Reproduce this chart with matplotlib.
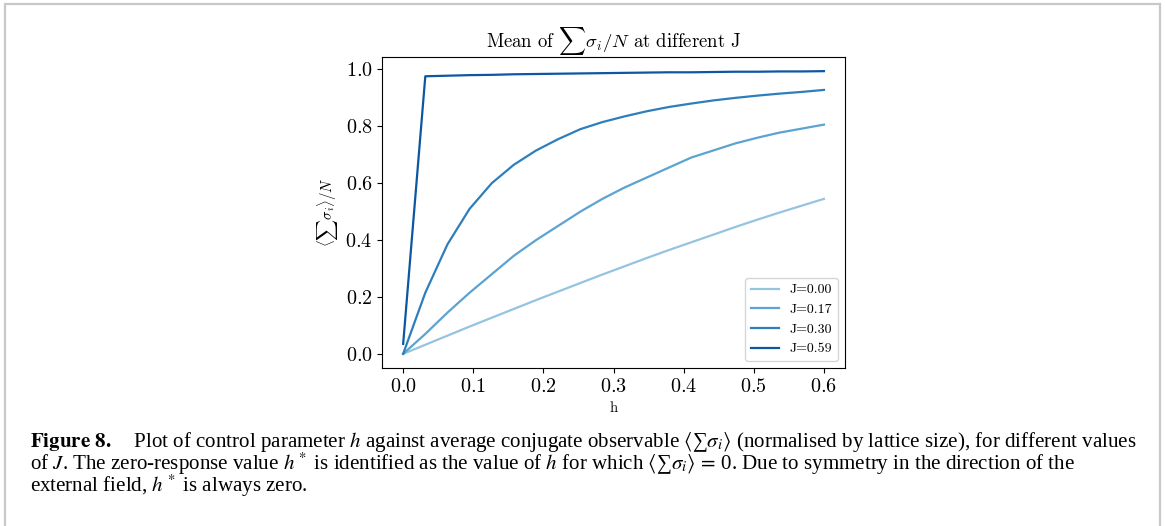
import numpy as np
import matplotlib
matplotlib.use("Agg")
import matplotlib.pyplot as plt
from matplotlib.patches import Rectangle

plt.rcParams['font.family'] = 'cmr10'
plt.rcParams['mathtext.fontset'] = 'cm'
plt.rcParams['axes.formatter.use_mathtext'] = True

# control parameter h (20 samples from 0 to 0.6)
h = np.linspace(0, 0.6, 20)

J_labels = ['J=0.00', 'J=0.17', 'J=0.30', 'J=0.59']

m_J000 = [0.0, 0.032, 0.064, 0.096, 0.127, 0.158, 0.189, 0.219, 0.249, 0.279,
          0.308, 0.337, 0.365, 0.392, 0.419, 0.446, 0.472, 0.497, 0.521, 0.545]
m_J017 = [0.0, 0.07, 0.145, 0.215, 0.28, 0.345, 0.40, 0.45, 0.50, 0.545,
          0.585, 0.62, 0.655, 0.69, 0.715, 0.74, 0.76, 0.778, 0.792, 0.806]
m_J030 = [0.0, 0.215, 0.385, 0.51, 0.60, 0.665, 0.715, 0.755, 0.79, 0.815,
          0.835, 0.853, 0.868, 0.88, 0.891, 0.90, 0.908, 0.915, 0.921, 0.928]
m_J059 = [0.035, 0.976, 0.978, 0.980, 0.981, 0.983, 0.984, 0.985, 0.986, 0.987,
          0.988, 0.989, 0.990, 0.990, 0.991, 0.992, 0.992, 0.993, 0.993, 0.994]

series = [m_J000, m_J017, m_J030, m_J059]
colors = [plt.cm.Blues(v) for v in (0.4, 0.55, 0.7, 0.85)]

fig = plt.figure(figsize=(11.65, 5.26), dpi=100)

# page border
fig.patches.append(Rectangle((5 / 1165, -0.05), 1155 / 1165, 1.05 - 4 / 526,
                             transform=fig.transFigure, fill=False,
                             edgecolor='#c8c8c8', linewidth=1.6))

ax = fig.add_axes([0.328, 0.3004, 0.3973, 0.5912])
for y, c, lab in zip(series, colors, J_labels):
    ax.plot(h, y, color=c, label=lab, linewidth=1.6)

ax.set_title(r'Mean of $\sum\sigma_i/N$ at different J', fontsize=13.5)
ax.set_xlabel('h', fontsize=10.5)
ax.set_ylabel(r'$\langle\sum\sigma_i\rangle/N$', fontsize=10.5)
ax.set_xticks(np.arange(0, 0.61, 0.1))
ax.set_yticks(np.arange(0, 1.01, 0.2))
ax.tick_params(labelsize=14.5)
ax.legend(loc='lower right', fontsize=10)

# caption, one text block so the lines share one layout
avg = r'$\langle$' + '\u2211' + r'$\sigma_i\rangle$'
caption = (r'$\mathbf{Figure\ 8.}\quad$ Plot of control parameter $h$ against average '
           r'conjugate observable ' + avg
           + ' (normalised by lattice size), for different values\n'
           r'of $J$. The zero-response value $h^*$ is identified as the value of $h$ '
           r'for which ' + avg + r'$\,=\,$0. Due to symmetry in the direction of the' + '\n'
           r'external field, $h^*$ is always zero.')
fig.text(30 / 1165, 1 - 430 / 526, caption, fontsize=15.1, family='Liberation Serif',
         va='top', linespacing=0.8, math_fontfamily='stix')

fig.savefig('out.png', dpi=100)
